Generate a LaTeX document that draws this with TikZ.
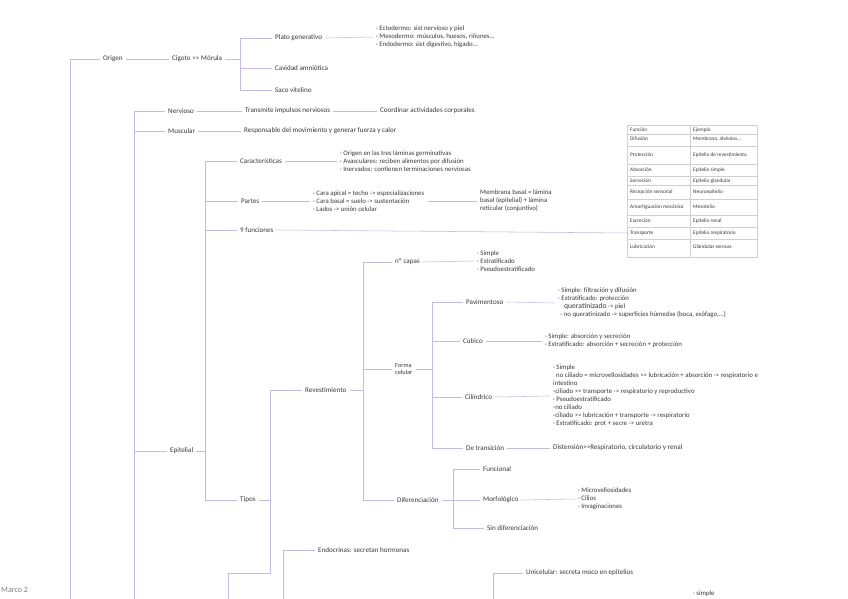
\documentclass[tikz,border=0pt]{standalone}
\usepackage{fontspec}
\setmainfont{Carlito}
\definecolor{lila}{RGB}{196,186,228}
\definecolor{tinta}{RGB}{58,58,62}
\definecolor{rejilla}{RGB}{208,208,208}
\tikzset{
  ln/.style={draw=lila, line width=0.55pt},
  vln/.style={draw=lila, line width=0.9pt},
  txt/.style={font=\fontsize{7.1}{8}\selectfont, text=tinta, inner xsep=3pt, inner ysep=1pt, anchor=west},
  lst/.style={txt, font=\fontsize{6.8}{8}\selectfont, align=left},
  celda/.style={font=\fontsize{5.3}{6}\selectfont, text=tinta, anchor=west, inner sep=1pt},
}
\begin{document}
\begin{tikzpicture}[x=1pt,y=-1pt]
\useasboundingbox (0,0) rectangle (848,599);
\fill[white] (0,0) rectangle (848,599);

% origen
\node[txt] (origen) at (100,59) {Origen};
\node[txt] (cigoto) at (169,59) {Cigoto >{}> Mórula};
\node[txt] (plato) at (272,38) {Plato generativo};
\node[txt] (cavidad) at (272,68) {Cavidad amniótica};
\node[txt] (saco) at (272,90) {Saco vitelino};
\node[lst] (platob) at (373,37) {· Ectodermo: sist nervioso y piel\\· Mesodermo: músculos, huesos, riñones...\\· Endodermo: sist digestivo, hígado...};

\coordinate (m0) at (70,599);
\coordinate (c1) at (240,59);
\draw[vln] (m0) |- (origen.west);
\draw[ln] (origen.east) -- (cigoto.west);
\draw[ln] (cigoto.east) -- (c1);
\draw[ln] (c1) |- (plato.west);
\draw[ln] (c1) |- (cavidad.west);
\draw[ln] (c1) |- (saco.west);
\draw[ln] (plato.east) -- (platob.west);

% tejidos
\node[txt] (nervioso) at (165,111) {Nervioso};
\node[txt] (transmite) at (242,111) {Transmite impulsos nerviosos};
\node[txt] (coordinar) at (377,111) {Coordinar actividades corporales};
\node[txt] (muscular) at (165,131) {Muscular};
\node[txt] (responsable) at (241,131) {Responsable del movimiento y generar fuerza y calor};
\node[txt] (epitelial) at (167,451) {Epitelial};

\coordinate (m1) at (134,599);
\draw[vln] (m1) |- (nervioso.west);
\draw[ln] (m1 |- muscular) -- (muscular.west);
\draw[ln] (m1 |- epitelial) -- (epitelial.west);
\draw[ln] (nervioso.east) -- (transmite.west);
\draw[ln] (transmite.east) -- (coordinar.west);
\draw[ln] (muscular.east) -- (responsable.west);

% epitelial
\node[txt] (caract) at (237,161) {Características};
\node[lst] (caractb) at (337,161) {· Origen en las tres láminas germinativas\\· Avasculares: reciben alimentos por difusión\\· Inervados: contienen terminaciones nerviosas};
\node[txt] (partes) at (238,201) {Partes};
\node[lst] (partesb) at (310,201) {· Cara apical = techo -> especializaciones\\· Cara basal = suelo -> sustentación\\· Lados -> unión celular};
\node[lst] (membrana) at (477,201) {Membrana basal = lámina\\basal (epitelial) + lámina\\reticular (conjuntivo)};
\node[txt] (funciones) at (237,230) {9 funciones};
\node[txt] (tipos) at (237,500) {Tipos};

\coordinate (e0) at (205,451);
\draw[ln] (epitelial.east) -- (e0);
\draw[vln] (e0) |- (caract.west);
\draw[vln] (e0) |- (tipos.west);
\draw[ln] (e0 |- partes) -- (partes.west);
\draw[ln] (e0 |- funciones) -- (funciones.west);
\draw[ln] (caract.east) -- (caractb.west);
\draw[ln] (partes.east) -- (partesb.west);
\draw[ln] (partesb.east) -- (membrana.west);

% tabla de funciones
\draw[rejilla, line width=0.5pt] (627,125) rectangle (757,257);
\draw[rejilla, line width=0.5pt] (690,125) -- (690,257);
\foreach \yy in {134,146,164,176,185,199,215,227,239}
  \draw[rejilla, line width=0.4pt] (627,\yy) -- (757,\yy);
\foreach \yy/\fun/\ej [count=\i] in {130/Función/Ejemplo, 139/Difusión/{Membrana, alvéolos...}, 155/Protección/Epitelio de revestimiento, 170/Absorción/Epitelio simple, 181/Secreción/Epitelio glandular, 192/Recepción sensorial/Neuroepitelio, 207/Amortiguación mecánica/Mesotelio, 221/Excreción/Epitelio renal, 233/Transporte/Epitelio respiratorio, 247/Lubricación/Glándulas serosas}{
  \node[celda] (fun\i) at (629,\yy) {\fun};
  \node[celda] (ej\i) at (692,\yy) {\ej};
}
\draw[ln] (funciones.east) -- (fun9.west);

% tipos
\node[txt] (revest) at (302,390) {Revestimiento};
\node[txt] (endoc) at (315,550) {Endocrinas: secretan hormonas};
\node[txt] (unicel) at (523,573) {Unicelular: secreta moco en epitelios};
\node[lst] (simpleb) at (690,594) {· simple};

\coordinate (t0) at (270,500);
\coordinate (t1) at (270,573);
\coordinate (t2) at (228,599);
\coordinate (g0) at (283,599);
\coordinate (u0) at (493,599);
\draw[ln] (tipos.east) -- (t0);
\draw[vln] (t0) |- (revest.west);
\draw[vln] (t0) -- (t1) -| (t2);
\draw[ln] (g0) |- (endoc.west);
\draw[ln] (u0) |- (unicel.west);

% revestimiento
\node[txt] (ncapas) at (392,262) {nº capas};
\node[lst] (ncapasb) at (474,261) {· Simple\\· Estratificado\\· Pseudoestratificado};
\node[txt, align=left, font=\fontsize{6.3}{7.5}\selectfont] (forma) at (392,369) {Forma\\celular};
\node[txt] (difer) at (394,500) {Diferenciación};

\coordinate (r0) at (363,390);
\draw[ln] (revest.east) -- (r0);
\draw[vln] (r0) |- (ncapas.west);
\draw[vln] (r0) |- (difer.west);
\draw[ln] (r0 |- forma) -- (forma.west);
\draw[ln] (ncapas.east) -- (ncapasb.west);

% forma celular
\node[txt] (pavim) at (463,302) {Pavimentoso};
\node[lst] (pavimb) at (555,303) {· Simple: filtración y difusión\\· Estratificado: protección\\\hspace*{6pt}{\fontsize{7.6}{8}\selectfont queratinizado} -> piel\\\hspace*{2pt}- no queratinizado -> superficies húmedas (boca, esófago,...)};
\node[txt] (cubico) at (460,341) {Cúbico};
\node[lst] (cubicob) at (542,341) {· Simple: absorción y secreción\\· Estratificado: absorción + secreción + protección};
\node[txt] (cilin) at (462,397) {Cilíndrico};
\node[lst] (cilinb) at (550,396) {· Simple\\\hspace*{3pt}no ciliado = microvellosidades >{}> lubricación + absorción -> respiratorio e\\intestino\\-ciliado >{}> transporte -> respiratorio y reproductivo\\· Pseudoestratificado\\-no ciliado\\-ciliado >{}> lubricación + transporte -> respiratorio\\· Estratificado: prot + secre -> uretra};
\node[txt] (transic) at (463,448) {De transición};
\node[txt] (distension) at (550,448) {Distensión>{}>Respiratorio, circulatorio y renal};

\coordinate (f0) at (432,369);
\draw[ln] (forma.east) -- (f0);
\draw[vln] (f0) |- (pavim.west);
\draw[vln] (f0) |- (transic.west);
\draw[ln] (f0 |- cubico) -- (cubico.west);
\draw[ln] (f0 |- cilin) -- (cilin.west);
\draw[ln] (pavim.east) -- (pavimb.west);
\draw[ln] (cubico.east) -- (cubicob.west);
\draw[ln] (cilin.east) -- (cilinb.west);
\draw[ln] (transic.east) -- (distension.west);

% diferenciacion
\node[txt] (funcional) at (480,469) {Funcional};
\node[txt] (morfo) at (480,500) {Morfológico};
\node[lst] (morfob) at (575,499) {· Microvellosidades\\· Cilios\\· Invaginaciones};
\node[txt] (sindif) at (484,528) {Sin diferenciación};

\coordinate (d0) at (453,500);
\draw[ln] (difer.east) -- (d0);
\draw[vln] (d0) |- (funcional.west);
\draw[vln] (d0) |- (sindif.west);
\draw[ln] (d0) -- (morfo.west);
\draw[ln] (morfo.east) -- (morfob.west);

\node[font=\fontsize{8}{9}\selectfont, text=gray, anchor=west, inner sep=0pt] (marco) at (1,590) {Marco 2};
\end{tikzpicture}
\end{document}
